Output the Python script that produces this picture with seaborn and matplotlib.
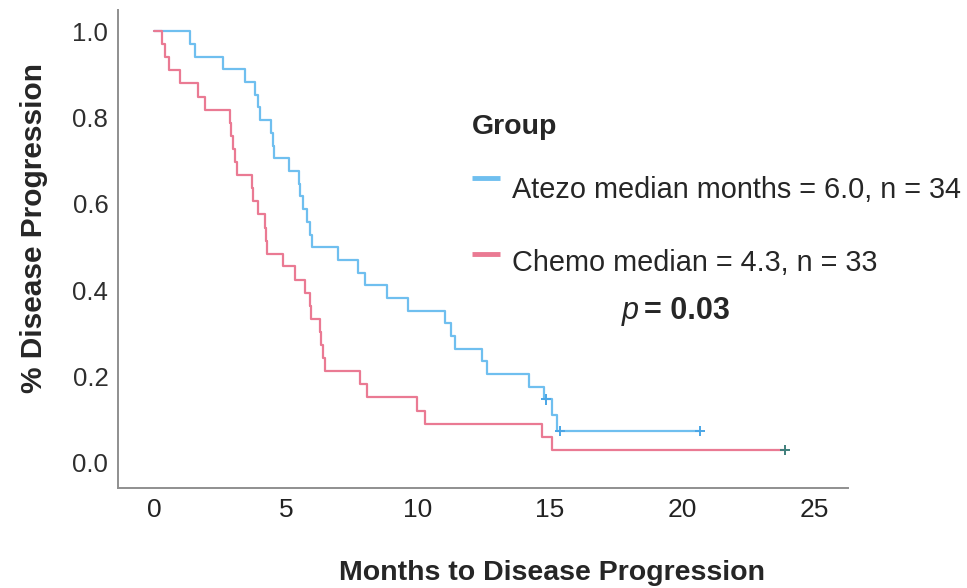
import matplotlib
matplotlib.use("Agg")
import matplotlib.pyplot as plt
import seaborn as sns
import pandas as pd
from matplotlib.lines import Line2D

# Kaplan-Meier steps
atezo_months = [0, 1.36, 1.55, 2.63, 3.45, 3.83, 3.95, 4.00, 4.43, 4.50, 4.55,
                5.11, 5.49, 5.55, 5.65, 5.78, 5.91, 5.97, 6.98, 7.74, 7.99,
                8.81, 9.63, 11.02, 11.27, 11.40, 12.44, 12.62, 14.22, 14.77,
                15.06, 15.25, 20.68]
atezo_surv = [1.0, 0.971, 0.941, 0.912, 0.882, 0.853, 0.824, 0.794, 0.765,
              0.735, 0.706, 0.676, 0.647, 0.618, 0.588, 0.559, 0.529, 0.500,
              0.471, 0.441, 0.412, 0.382, 0.353, 0.324, 0.294, 0.265, 0.235,
              0.206, 0.176, 0.147, 0.110, 0.074, 0.074]
atezo_censor_months = [14.85, 15.38, 20.68]
atezo_censor_surv = [0.147, 0.074, 0.074]

chemo_months = [0, 0.30, 0.42, 0.58, 0.98, 1.68, 1.93, 2.88, 2.93, 3.00, 3.08,
                3.15, 3.70, 3.76, 3.95, 4.20, 4.24, 4.27, 4.90, 5.34, 5.72,
                5.91, 5.95, 6.29, 6.33, 6.41, 6.48, 7.80, 8.06, 9.95, 10.27,
                14.70, 15.08, 23.90]
chemo_surv = [1.0, 0.970, 0.939, 0.909, 0.879, 0.848, 0.818, 0.788, 0.758,
              0.727, 0.697, 0.667, 0.636, 0.606, 0.576, 0.545, 0.515, 0.485,
              0.455, 0.424, 0.394, 0.364, 0.333, 0.303, 0.273, 0.242, 0.212,
              0.182, 0.152, 0.121, 0.091, 0.061, 0.030, 0.030]
chemo_censor_months = [23.90]
chemo_censor_surv = [0.030]

group_labels = ["Atezo median months = 6.0, n = 34", "Chemo median = 4.3, n = 33"]
x_ticks = [0, 5, 10, 15, 20, 25]
y_ticks = [0.0, 0.2, 0.4, 0.6, 0.8, 1.0]

BLUE = "#6fbfef"
PINK = "#ea7a93"

W, H = 967, 588


def fx(px):
    return px / W


def fy(py):
    return 1 - py / H


def main():
    curves = pd.concat([
        pd.DataFrame({"months": atezo_months, "surv": atezo_surv, "group": "Atezo"}),
        pd.DataFrame({"months": chemo_months, "surv": chemo_surv, "group": "Chemo"}),
    ])
    censors = pd.concat([
        pd.DataFrame({"months": atezo_censor_months, "surv": atezo_censor_surv, "group": "Atezo"}),
        pd.DataFrame({"months": chemo_censor_months, "surv": chemo_censor_surv, "group": "Chemo"}),
    ])

    sns.set_style("white")
    plt.rcParams["font.family"] = ["Liberation Sans", "DejaVu Sans"]

    fig = plt.figure(figsize=(W / 100, H / 100), dpi=100)
    ax = fig.add_axes([fx(118), fy(488), fx(848) - fx(118), fy(10) - fy(488)])

    sns.lineplot(data=curves, x="months", y="surv", hue="group",
                 palette={"Atezo": BLUE, "Chemo": PINK}, drawstyle="steps-post",
                 estimator=None, sort=False, linewidth=1.6, legend=False, ax=ax)
    sns.scatterplot(data=censors, x="months", y="surv", hue="group",
                    palette={"Atezo": "#4aa6e6", "Chemo": "#3f7f7c"},
                    marker="+", s=55, linewidth=1.4, legend=False, ax=ax, zorder=3)

    ax.set_xlim(-1.36, 26.29)
    ax.set_ylim(-0.058, 1.049)
    ax.set_xticks(x_ticks)
    ax.set_yticks(y_ticks)
    ax.set_xticklabels([str(t) for t in x_ticks], fontsize=19, color="#222222")
    ax.set_yticklabels([f"{t:.1f}" for t in y_ticks], fontsize=18.5, color="#2e2e2e")
    ax.tick_params(length=0, pad=7)

    for side in ["top", "right"]:
        ax.spines[side].set_visible(False)
    for side in ["left", "bottom"]:
        ax.spines[side].set_color("#8f8f8f")
        ax.spines[side].set_linewidth(1.4)

    ax.set_xlabel("")
    ax.set_ylabel("")
    fig.text(fx(552), fy(573), "Months to Disease Progression", fontsize=20.5,
             fontweight="bold", ha="center", va="center")
    fig.text(fx(34), fy(228), "% Disease Progression", fontsize=21.5,
             fontweight="bold", ha="center", va="center", rotation=90)

    # legend drawn by hand to match its loose spacing
    fig.text(fx(472), fy(127), "Group", fontsize=20.5, fontweight="bold", va="center")
    for label, color, ly, ty in [(group_labels[0], BLUE, 178, 190),
                                 (group_labels[1], PINK, 254, 263)]:
        fig.add_artist(Line2D([fx(472), fx(500)], [fy(ly), fy(ly)], color=color,
                              linewidth=3.5, solid_capstyle="butt",
                              transform=fig.transFigure))
        fig.text(fx(512), fy(ty), label, fontsize=20.8, va="center")
    fig.text(fx(622), fy(311), "p", fontsize=22, style="italic", va="center")
    fig.text(fx(644), fy(311), "= 0.03", fontsize=22, fontweight="bold", va="center")

    fig.savefig("out.png", dpi=100)


if __name__ == "__main__":
    main()
